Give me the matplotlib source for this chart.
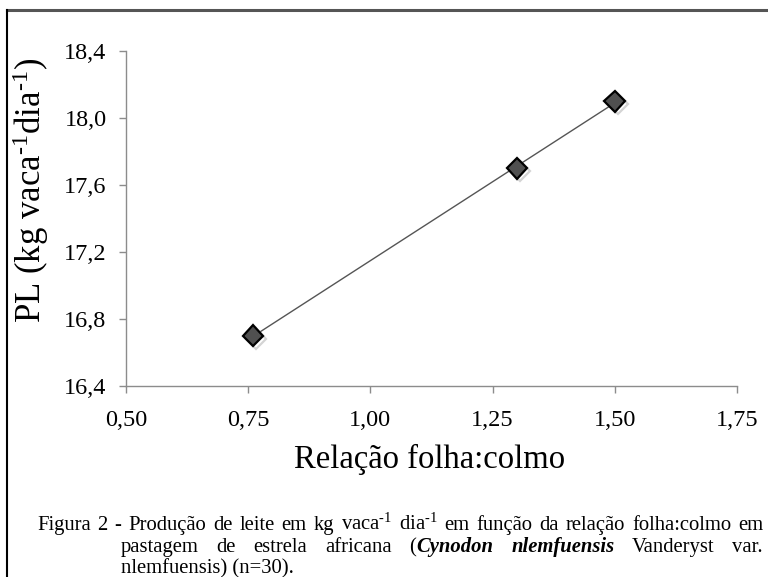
import numpy as np
import matplotlib
matplotlib.use("Agg")
import matplotlib.pyplot as plt
from matplotlib.lines import Line2D
import matplotlib.patheffects as pe

plt.rcParams['font.family'] = ['Liberation Serif', 'DejaVu Serif']
plt.rcParams['mathtext.fontset'] = 'custom'
plt.rcParams['mathtext.rm'] = 'Liberation Serif'
plt.rcParams['mathtext.it'] = 'Liberation Serif:italic'
plt.rcParams['mathtext.bf'] = 'Liberation Serif:bold'

# data
relacao = [0.76, 1.30, 1.50]
producao = [16.7, 17.7, 18.1]
xticks = [0.50, 0.75, 1.00, 1.25, 1.50, 1.75]
xticklabels = ["0,50", "0,75", "1,00", "1,25", "1,50", "1,75"]
yticks = [16.4, 16.8, 17.2, 17.6, 18.0, 18.4]
yticklabels = ["16,4", "16,8", "17,2", "17,6", "18,0", "18,4"]

W, H = 768, 577
fig = plt.figure(figsize=(W/100, H/100), dpi=100)
ax = fig.add_axes([126/W, 1-386/H, (737-126)/W, (386-51)/H])

# trend line (linear regression)
coef = np.polyfit(relacao, producao, 1)
xl = np.array([min(relacao), max(relacao)])
ax.plot(xl, np.polyval(coef, xl), color='#555555', lw=1.0, zorder=2)

ax.plot(relacao, producao, linestyle='none', marker='D', ms=10.5,
        mfc='#505050', mec='black', mew=1.6, zorder=3,
        path_effects=[pe.SimpleLineShadow(offset=(2, -2), shadow_color='#aaaaaa', alpha=0.5),
                      pe.Normal()])

ax.set_xlim(0.50, 1.75)
ax.set_ylim(16.4, 18.4)
ax.set_xticks(xticks)
ax.set_xticklabels(xticklabels)
ax.set_yticks(yticks)
ax.set_yticklabels(yticklabels)
for s in ['top', 'right']:
    ax.spines[s].set_visible(False)
for s in ['left', 'bottom']:
    ax.spines[s].set_color('#8c8c8c')
    ax.spines[s].set_linewidth(1.0)
ax.tick_params(axis='both', direction='out', length=5, width=1.0, color='#8c8c8c',
               labelsize=17.5)
ax.tick_params(axis='y', pad=9)
ax.tick_params(axis='x', pad=12)

sup = "$^{\\text{-1}}$"
ax.set_xlabel("Relação folha:colmo", fontsize=23.5)
ax.xaxis.set_label_coords(0.497, -0.172)
ax.set_ylabel("PL (kg vaca" + sup + "dia" + sup + ")", fontsize=25)
ax.yaxis.set_label_coords(-0.122, 0.585)

# frame
fig.add_artist(Line2D([7/W, 1.0], [1-10/H, 1-10/H], color='#555555', lw=2.2, transform=fig.transFigure))
fig.add_artist(Line2D([7/W, 7/W], [1-10/H, 0.0], color='black', lw=1.5, transform=fig.transFigure))

# caption (justified like the source)
cap_fs = 14.9
renderer = fig.canvas.get_renderer()

line1 = [[(w, 'n')] for w in ["Figura", "2", "-", "Produção", "de", "leite", "em", "kg",
                              "vaca" + sup, "dia" + sup, "em", "função", "da", "relação",
                              "folha:colmo", "em"]]
line2 = [[("pastagem", 'n')], [("de", 'n')], [("estrela", 'n')], [("africana", 'n')],
         [("(", 'n'), ("Cynodon", 'bi')], [("nlemfuensis", 'bi')],
         [("Vanderyst", 'n')], [("var.", 'n')]]
line3 = "nlemfuensis) (n=30)."

def place_justified(groups_spec, x0, x1, ybase):
    groups = []
    for grp in groups_spec:
        ts = []
        for w, st in grp:
            kw = dict(fontsize=cap_fs, va='baseline', ha='left')
            if st == 'bi':
                kw.update(fontweight='bold', fontstyle='italic')
            ts.append(fig.text(0, 0, w, **kw))
        groups.append(ts)
    gw = [sum(t.get_window_extent(renderer).width for t in g) for g in groups]
    gap = (x1 - x0 - sum(gw)) / (len(groups) - 1)
    x = x0
    for g, wd in zip(groups, gw):
        xx = x
        for t in g:
            t.set_position((xx / W, 1 - ybase / H))
            xx += t.get_window_extent(renderer).width
        x += wd + gap

place_justified(line1, 37, 763, 530)
place_justified(line2, 121, 763, 552)
fig.text(121/W, 1-573/H, line3, fontsize=cap_fs, va='baseline', ha='left')

fig.savefig("out.png", dpi=100)
